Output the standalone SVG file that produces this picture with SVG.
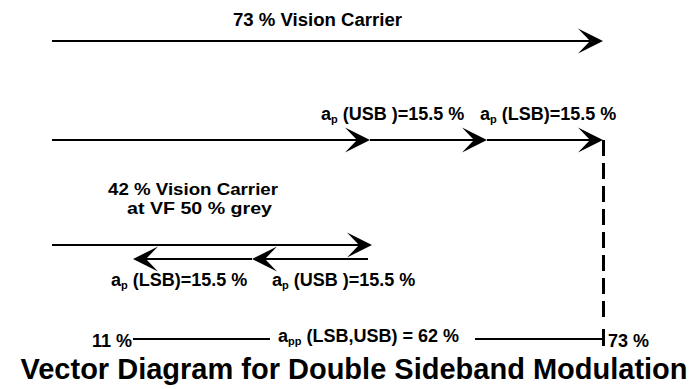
<svg xmlns="http://www.w3.org/2000/svg" width="696" height="389" viewBox="0 0 696 389">
<style>
text{font-family:"Liberation Sans",Arial,sans-serif;font-weight:bold;fill:#000}
.lbl{font-size:18px}
.lbl2{font-size:17px}
.sub{font-size:11px}
.title{font-size:29px}
.ln{stroke:#000;stroke-width:2;fill:none}
</style>
<defs>
<marker id="ah" markerUnits="userSpaceOnUse" viewBox="-26 -14 30 28" refX="-3" refY="0" markerWidth="30" markerHeight="28" orient="auto">
<path d="M0,0 L-25,-12.5 L-13,0 L-25,12.5 Z" fill="#000"/>
</marker>
</defs>
<rect width="696" height="389" fill="#fff"/>
<g id="connectors">
<line class="ln" x1="52" y1="41" x2="600" y2="41" marker-end="url(#ah)"/>
<line class="ln" x1="52" y1="140" x2="367" y2="140" marker-end="url(#ah)"/>
<line class="ln" x1="370" y1="140" x2="484" y2="140" marker-end="url(#ah)"/>
<line class="ln" x1="487" y1="140" x2="600" y2="140" marker-end="url(#ah)"/>
<line class="ln" x1="52" y1="245" x2="369" y2="245" marker-end="url(#ah)"/>
<line class="ln" x1="368" y1="259" x2="255" y2="259" marker-end="url(#ah)"/>
<line class="ln" x1="252" y1="259" x2="136" y2="259" marker-end="url(#ah)"/>
<line x1="603.5" y1="140" x2="603.5" y2="317" stroke="#000" stroke-width="3" stroke-dasharray="16 7"/>
<line class="ln" x1="133" y1="339" x2="270" y2="339"/>
<line class="ln" x1="475" y1="339" x2="603" y2="339"/>
<line x1="603.5" y1="329" x2="603.5" y2="346" stroke="#000" stroke-width="3"/>
</g>
<g id="vision-carrier-73">
<text class="lbl" x="233" y="26" textLength="169" lengthAdjust="spacingAndGlyphs">73 % Vision Carrier</text>
</g>
<g id="sidebands-top">
<text class="lbl" x="321" y="120">a<tspan class="sub" dy="3">p</tspan><tspan dy="-3"> (USB )=15.5 %</tspan></text>
<text class="lbl" x="480" y="120">a<tspan class="sub" dy="3">p</tspan><tspan dy="-3"> (LSB)=15.5 %</tspan></text>
</g>
<g id="vision-carrier-42">
<text class="lbl2" x="108" y="195" textLength="170" lengthAdjust="spacingAndGlyphs">42 % Vision Carrier</text>
<text class="lbl2" x="127" y="214" textLength="145" lengthAdjust="spacingAndGlyphs">at VF 50 % grey</text>
</g>
<g id="sidebands-bottom">
<text class="lbl" x="111" y="286">a<tspan class="sub" dy="3">p</tspan><tspan dy="-3"> (LSB)=15.5 %</tspan></text>
<text class="lbl" x="272" y="286">a<tspan class="sub" dy="3">p</tspan><tspan dy="-3"> (USB )=15.5 %</tspan></text>
</g>
<g id="peak-to-peak">
<text class="lbl" x="92" y="347">11 %</text>
<text class="lbl" x="278" y="342">a<tspan class="sub" dy="3">pp</tspan><tspan dy="-3"> (LSB,USB) = 62 %</tspan></text>
<text class="lbl" x="608" y="347">73 %</text>
</g>
<g id="title">
<text class="title" x="354" y="379" text-anchor="middle">Vector Diagram for Double Sideband Modulation</text>
</g>
</svg>
